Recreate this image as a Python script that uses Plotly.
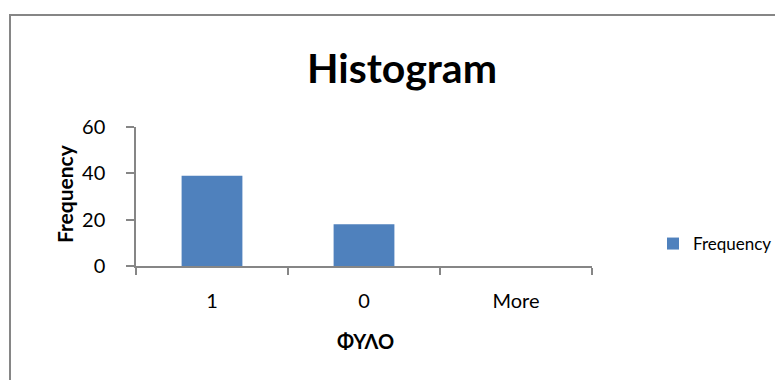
import plotly.graph_objects as go

# Data
categories = ["1", "0", "More"]
frequency = [39, 18, 0]
y_ticks = [0, 20, 40, 60]
series_name = "Frequency"
title_text = "Histogram"
x_title = "ΦΥΛΟ"
y_title = "Frequency"

VW, VH = 783, 380          # browser window
OFF = 8                    # page body margin offset
W, H = VW - OFF, VH - OFF  # figure size so it ends at the window edge
# plot area bounds in window pixels
L, R, T, B = 136, 592, 127, 266
pw, ph = R - L, B - T

def px(x):
    return (x - L) / pw

def py(y):
    return (B - y) / ph

FONT = "Lato, Noto Sans, sans-serif"
AXIS_COLOR = "#868686"

fig = go.Figure()
fig.add_trace(go.Bar(
    x=categories, y=frequency, name=series_name,
    marker=dict(color="#4F81BD", line=dict(width=0)),
    showlegend=True,
))

fig.update_layout(
    width=W, height=H, autosize=False,
    margin=dict(l=L - OFF, r=VW - R, t=T - OFF, b=VH - B, pad=0,
                autoexpand=False),
    paper_bgcolor="white", plot_bgcolor="white",
    font=dict(family=FONT, size=19, color="black"),
    bargap=0.6,
    title=dict(text="<b>" + title_text + "</b>", x=(402 - OFF) / W, xanchor="center",
               y=1 - (69 - OFF) / H, yanchor="middle", xref="container", yref="container",
               font=dict(size=41, family=FONT, color="black")),
    showlegend=True,
    legend=dict(x=(653 - OFF) / W, xanchor="left", y=1 - (244 - OFF) / H, yanchor="middle",
                xref="container", yref="container",
                font=dict(size=17, family=FONT), bgcolor="rgba(0,0,0,0)",
                itemwidth=30),
)

fig.update_xaxes(
    type="category", showline=True, linecolor=AXIS_COLOR, linewidth=1.5,
    ticks="outside", tickson="boundaries", ticklen=7, tickcolor=AXIS_COLOR,
    tickwidth=1.5, showgrid=False, zeroline=False, automargin=False,
    tickfont=dict(size=20), ticklabelstandoff=16,
)
fig.update_yaxes(
    range=[0, 60], tickvals=y_ticks, showline=True, linecolor=AXIS_COLOR,
    linewidth=1.5, ticks="outside", ticklen=8, tickcolor=AXIS_COLOR,
    tickwidth=1.5, showgrid=False, zeroline=False, automargin=False,
    tickfont=dict(size=20), ticklabelstandoff=17,
)

# Axis titles
fig.add_annotation(text="<b>" + x_title + "</b>", xref="paper", yref="paper",
                   x=px(365), y=py(341), showarrow=False,
                   font=dict(size=20, family=FONT), xanchor="center", yanchor="middle")
fig.add_annotation(text="<b>" + y_title + "</b>", xref="paper", yref="paper",
                   x=px(64), y=py(194), showarrow=False, textangle=-90,
                   font=dict(size=21, family=FONT), xanchor="center", yanchor="middle")

# Chart border
fig.add_shape(type="rect", xref="paper", yref="paper",
              x0=px(10), x1=px(VW + 30), y0=py(VH + 30), y1=py(15),
              line=dict(color=AXIS_COLOR, width=2), layer="below")

fig.write_html("out.html")
